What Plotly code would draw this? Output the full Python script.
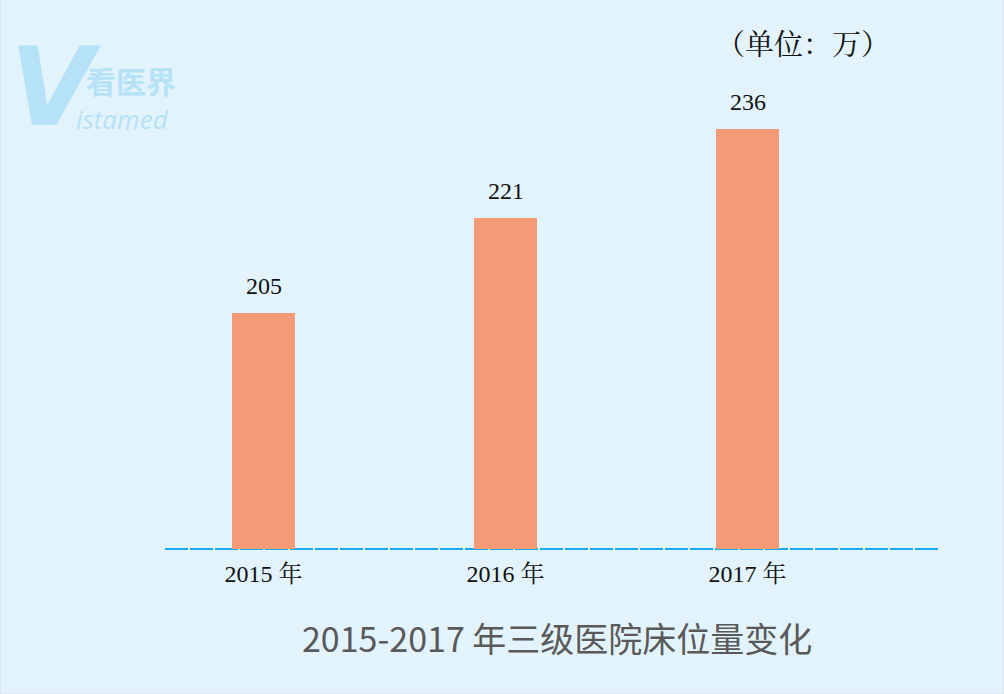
import plotly.graph_objects as go

categories = ["2015 年", "2016 年", "2017 年"]
values = [205, 221, 236]
value_labels = ["205", "221", "236"]

title_text = "2015-2017 年三级医院床位量变化"
unit_text = "（单位：万）"

bg = "#E3F3FC"
bar_color = "#F29B76"
serif = "Liberation Serif, Noto Serif CJK SC, Noto Sans CJK SC, serif"
sans = "Noto Sans CJK SC, Noto Sans, sans-serif"

fig = go.Figure()
fig.add_trace(go.Bar(
    x=categories, y=values, width=0.26,
    marker=dict(color=bar_color, line=dict(width=0)),
    hoverinfo="skip",
))

for c, v, t in zip(categories, values, value_labels):
    fig.add_annotation(x=c, y=v, text=t, showarrow=False, yanchor="bottom",
                       yshift=12, font=dict(family=serif, size=24, color="#111111"))

# baseline
fig.add_shape(type="line", xref="paper", yref="paper", x0=0, x1=1, y0=0, y1=0,
              line=dict(color="#19A9F0", width=2, dash="23px,2px"), layer="below")

# unit
fig.add_annotation(xref="paper", yref="paper", x=(803 - 165) / 775, y=(549 - 45) / 529,
                   text=unit_text, showarrow=False, xanchor="center", yanchor="middle",
                   font=dict(family=serif, size=29, color="#111111"))

# title
fig.add_annotation(xref="paper", yref="paper", x=(557 - 165) / 775, y=(549 - 637) / 529,
                   text=title_text, showarrow=False, xanchor="center", yanchor="middle",
                   font=dict(family=sans, size=34, color="#595959"))

# watermark
wm = "#B5E2F7"
fig.add_annotation(xref="paper", yref="paper", x=(55 - 165) / 775, y=(549 - 87) / 529,
                   text="<b><i>V</i></b>", showarrow=False, xanchor="center", yanchor="middle",
                   font=dict(family="DejaVu Sans, sans-serif", size=108, color=wm))
fig.add_annotation(xref="paper", yref="paper", x=(131 - 165) / 775, y=(549 - 80) / 529,
                   text="<b>看医界</b>", showarrow=False, xanchor="center", yanchor="middle",
                   font=dict(family=sans, size=30, color=wm))
fig.add_annotation(xref="paper", yref="paper", x=(122 - 165) / 775, y=(549 - 119) / 529,
                   text="<i>istamed</i>", showarrow=False, xanchor="center", yanchor="middle",
                   font=dict(family="Open Sans, sans-serif", size=26, color=wm))

# border
fig.add_shape(type="rect", xref="paper", yref="paper",
              x0=-165 / 775, x1=(1004 - 165) / 775, y0=-145 / 529, y1=(549 - 0) / 529 + 20 / 529,
              line=dict(color="#D0DCE3", width=1), layer="below")

fig.update_layout(
    width=1004, height=694,
    margin=dict(l=165, r=64, t=20, b=145),
    paper_bgcolor=bg, plot_bgcolor=bg,
    showlegend=False, bargap=0,
    xaxis=dict(range=[-0.407, 2.795], showgrid=False, showline=False, zeroline=False,
               ticks="", ticklabelstandoff=8,
               tickfont=dict(family=serif, size=24, color="#111111")),
    yaxis=dict(range=[165.3, 254.4], visible=False, showgrid=False, zeroline=False),
)

fig.write_html("out.html")
